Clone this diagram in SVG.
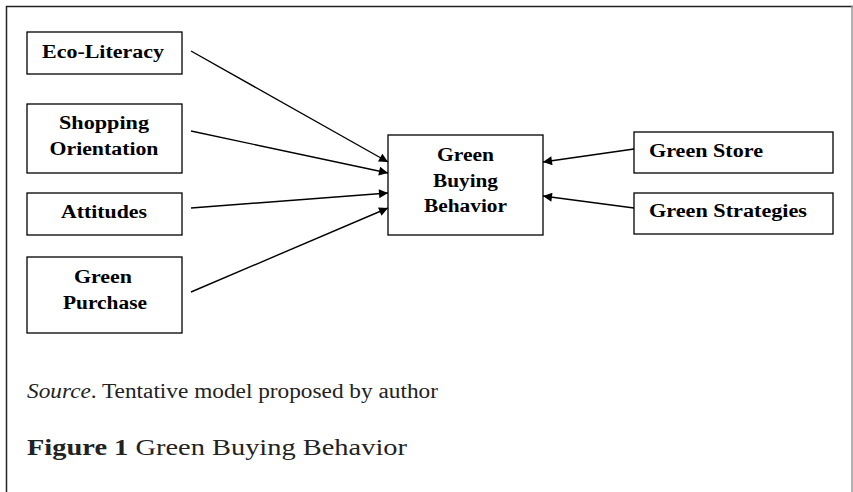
<svg xmlns="http://www.w3.org/2000/svg" width="853" height="492" viewBox="0 0 853 492">
<style>
.box{fill:#fff;stroke:#000;stroke-width:1.3}
.lbl{font-family:"Liberation Serif",serif;font-weight:bold;font-size:18.5px;fill:#000;text-anchor:middle}
.lft{text-anchor:start}
.conn line{stroke:#000;stroke-width:1.4;marker-end:url(#ah)}
.cap{font-family:"Liberation Serif",serif;fill:#222}
</style>
<defs>
<marker id="ah" viewBox="0 0 10 10" refX="10" refY="5" markerWidth="10" markerHeight="9" markerUnits="userSpaceOnUse" orient="auto">
<path d="M0,0 L10,5 L0,10 z" fill="#000"/>
</marker>
</defs>
<rect width="853" height="492" fill="#fff"/>
<line x1="6" y1="6.5" x2="853" y2="6.5" stroke="#222" stroke-width="1.5"/>
<line x1="6.5" y1="6" x2="6.5" y2="492" stroke="#222" stroke-width="1.5"/>
<line x1="852" y1="6" x2="852" y2="492" stroke="#999" stroke-width="1.5"/>
<g id="eco"><rect class="box" x="27" y="32" width="155" height="42"/><text class="lbl" x="103" y="58" textLength="122" lengthAdjust="spacingAndGlyphs">Eco-Literacy</text></g>
<g id="shopping"><rect class="box" x="27" y="104" width="155" height="69"/><text class="lbl" x="104" y="129" textLength="90" lengthAdjust="spacingAndGlyphs">Shopping</text><text class="lbl" x="104" y="155" textLength="109" lengthAdjust="spacingAndGlyphs">Orientation</text></g>
<g id="attitudes"><rect class="box" x="27" y="193" width="155" height="42"/><text class="lbl" x="104" y="218" textLength="86" lengthAdjust="spacingAndGlyphs">Attitudes</text></g>
<g id="purchase"><rect class="box" x="27" y="257" width="155" height="76"/><text class="lbl" x="103" y="283" textLength="58" lengthAdjust="spacingAndGlyphs">Green</text><text class="lbl" x="105" y="309" textLength="84" lengthAdjust="spacingAndGlyphs">Purchase</text></g>
<g id="gbb"><rect class="box" x="388" y="135" width="155" height="100"/><text class="lbl" x="465.5" y="161" textLength="57" lengthAdjust="spacingAndGlyphs">Green</text><text class="lbl" x="465.5" y="187" textLength="65" lengthAdjust="spacingAndGlyphs">Buying</text><text class="lbl" x="465.5" y="212" textLength="83" lengthAdjust="spacingAndGlyphs">Behavior</text></g>
<g id="store"><rect class="box" x="634" y="132" width="199" height="41"/><text class="lbl lft" x="649" y="157" textLength="114" lengthAdjust="spacingAndGlyphs">Green Store</text></g>
<g id="strategies"><rect class="box" x="634" y="193" width="199" height="41"/><text class="lbl lft" x="649" y="217" textLength="158" lengthAdjust="spacingAndGlyphs">Green Strategies</text></g>
<g class="conn" id="connectors">
<line x1="191" y1="51" x2="388" y2="162"/>
<line x1="191" y1="131" x2="388" y2="173"/>
<line x1="191" y1="208" x2="388" y2="193"/>
<line x1="191" y1="292" x2="388" y2="208"/>
<line x1="634" y1="149" x2="543" y2="162"/>
<line x1="634" y1="208" x2="543" y2="196"/>
</g>
<text class="cap" x="27" y="398" font-size="20.5" textLength="411" lengthAdjust="spacingAndGlyphs"><tspan font-style="italic">Source</tspan>. Tentative model proposed by author</text>
<text class="cap" x="27" y="455" font-size="23.5" textLength="380" lengthAdjust="spacingAndGlyphs"><tspan font-weight="bold">Figure 1</tspan> Green Buying Behavior</text>
</svg>
